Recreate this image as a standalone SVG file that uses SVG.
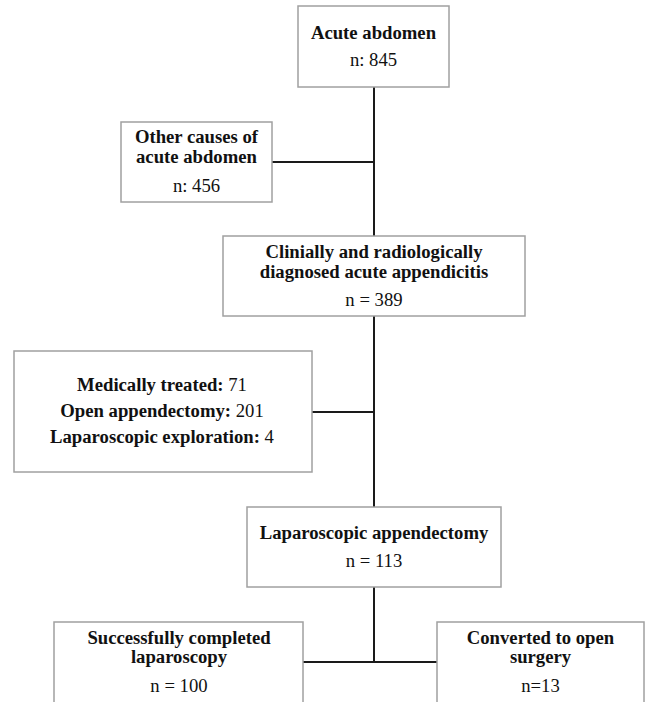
<svg xmlns="http://www.w3.org/2000/svg" width="646" height="702" viewBox="0 0 646 702">
<style>
.box{fill:#ffffff;stroke:#a0a0a0;stroke-width:1.5}
.t{font-family:"Liberation Serif","Times New Roman",serif;font-size:18.7px;fill:#111;text-anchor:middle}
.b{font-weight:bold}
.c{stroke:#1a1a1a;stroke-width:2;fill:none}
</style>
<rect width="646" height="702" fill="#ffffff"/>
<g id="connectors">
<line class="c" x1="374" y1="87" x2="374" y2="236"/>
<line class="c" x1="272" y1="162" x2="374" y2="162"/>
<line class="c" x1="374" y1="316" x2="374" y2="507"/>
<line class="c" x1="312" y1="412" x2="374" y2="412"/>
<line class="c" x1="374" y1="587" x2="374" y2="662"/>
<line class="c" x1="303" y1="662" x2="437" y2="662"/>
</g>
<g id="acute">
<rect class="box" x="298" y="6" width="151" height="81"/>
<text class="t b" x="373.5" y="39">Acute abdomen</text>
<text class="t" x="373.5" y="66">n: 845</text>
</g>
<g id="other">
<rect class="box" x="121" y="122" width="151" height="80"/>
<text class="t b" x="196.5" y="143">Other causes of</text>
<text class="t b" x="196.5" y="163">acute abdomen</text>
<text class="t" x="196.5" y="192">n: 456</text>
</g>
<g id="diagnosed">
<rect class="box" x="223" y="236" width="302" height="80"/>
<text class="t b" x="374" y="258">Clinially and radiologically</text>
<text class="t b" x="374" y="278">diagnosed acute appendicitis</text>
<text class="t" x="374" y="306">n = 389</text>
</g>
<g id="other-treatment">
<rect class="box" x="14" y="351" width="298" height="121"/>
<text class="t" x="162" y="391"><tspan class="b">Medically treated:</tspan> 71</text>
<text class="t" x="162" y="417"><tspan class="b">Open appendectomy:</tspan> 201</text>
<text class="t" x="162" y="443"><tspan class="b">Laparoscopic exploration:</tspan> 4</text>
</g>
<g id="laparoscopic">
<rect class="box" x="247" y="507" width="254" height="80"/>
<text class="t b" x="374" y="539">Laparoscopic appendectomy</text>
<text class="t" x="374" y="567">n = 113</text>
</g>
<g id="completed">
<rect class="box" x="54" y="622" width="249" height="90"/>
<text class="t b" x="179" y="644">Successfully completed</text>
<text class="t b" x="179" y="663">laparoscopy</text>
<text class="t" x="179" y="692">n = 100</text>
</g>
<g id="converted">
<rect class="box" x="437" y="622" width="207" height="90"/>
<text class="t b" x="540.5" y="644">Converted to open</text>
<text class="t b" x="540.5" y="663">surgery</text>
<text class="t" x="540.5" y="692">n=13</text>
</g>
</svg>
